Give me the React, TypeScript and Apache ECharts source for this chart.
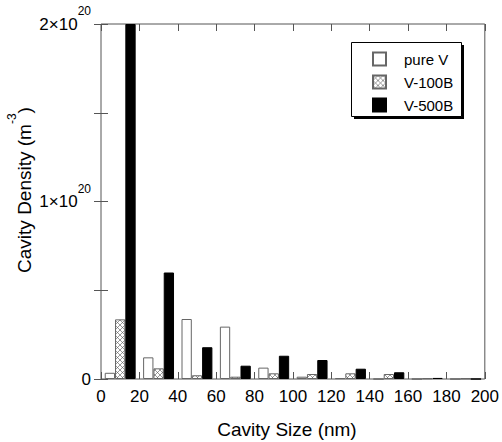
import React, { useEffect, useRef } from "react";
import * as echarts from "echarts";

const binCategories = ["0-20", "20-40", "40-60", "60-80", "80-100", "100-120", "120-140", "140-160", "160-180", "180-200"];
const pureV = [3.5e18, 12.2e18, 33.8e18, 29.5e18, 6.4e18, 1.3e18, 0.5e18, 0, 0, 0];
const v100B = [33.6e18, 6.0e18, 2.1e18, 1.3e18, 3.2e18, 2.8e18, 3.2e18, 2.8e18, 0.4e18, 0.3e18];
const v500B = [200e18, 60e18, 17.9e18, 7.5e18, 13.1e18, 10.7e18, 5.8e18, 3.8e18, 0.6e18, 0];
const seriesNames = ["pure V", "V-100B", "V-500B"];
const xTickValues = [0, 20, 40, 60, 80, 100, 120, 140, 160, 180, 200];

const FONT = "Liberation Sans, Arial, Helvetica, sans-serif";

const hatchSvg =
  "<svg xmlns='http://www.w3.org/2000/svg' width='5' height='5'>" +
  "<rect width='5' height='5' fill='white'/>" +
  "<path d='M0,0L5,5M5,0L0,5' stroke='#555' stroke-width='0.6'/></svg>";
const hatchUrl = "data:image/svg+xml;charset=utf-8," + encodeURIComponent(hatchSvg);

export default function App() {
  const ref = useRef<HTMLDivElement>(null);
  useEffect(() => {
    if (!ref.current) return;
    const chart = echarts.init(ref.current, null, { renderer: "svg" });
    const axisColor = "#555";
    const yFormatter = (v: number) => {
      if (v === 0) return "0";
      const m = v / 1e20;
      if (Math.abs(m - Math.round(m)) > 1e-9) return "";
      return `{b|${Math.round(m)}×10}{s|20}`;
    };
    const yRich = {
      b: { fontSize: 17, lineHeight: 20, fontFamily: FONT, color: "#000", verticalAlign: "middle" },
      s: { fontSize: 12, lineHeight: 12, fontFamily: FONT, color: "#000", verticalAlign: "bottom", padding: [0, 0, 17, 0] },
    };
    const xMin = xTickValues[0];
    const xMax = xTickValues[xTickValues.length - 1];
    const xInterval = xTickValues[1] - xTickValues[0];
    chart.setOption({
      animation: false,
      backgroundColor: "#fff",
      grid: {
        left: 101,
        right: 16,
        top: 24,
        bottom: 63,
        show: true,
        borderColor: axisColor,
        borderWidth: 1,
        backgroundColor: "transparent",
      },
      xAxis: [
        {
          type: "category",
          data: binCategories,
          show: false,
        },
        {
          type: "value",
          min: xMin,
          max: xMax,
          interval: xInterval,
          position: "bottom",
          axisLine: { show: false },
          axisTick: { show: true, inside: true, length: 7, lineStyle: { color: axisColor } },
          splitLine: { show: false },
          axisLabel: { fontSize: 17, fontFamily: FONT, color: "#000", margin: 9 },
        },
        {
          type: "value",
          min: xMin,
          max: xMax,
          interval: xInterval,
          position: "top",
          axisLine: { show: false },
          axisTick: { show: true, inside: true, length: 7, lineStyle: { color: axisColor } },
          splitLine: { show: false },
          axisLabel: { show: false },
        },
      ],
      yAxis: [
        {
          type: "value",
          min: 0,
          max: 2e20,
          interval: 5e19,
          position: "left",
          axisLine: { show: false },
          axisTick: { show: true, inside: true, length: 7, lineStyle: { color: axisColor } },
          splitLine: { show: false },
          axisLabel: { formatter: yFormatter, rich: yRich, margin: 10, fontFamily: FONT, fontSize: 17, color: "#000" },
        },
        {
          type: "value",
          min: 0,
          max: 2e20,
          interval: 5e19,
          position: "right",
          axisLine: { show: false },
          axisTick: { show: true, inside: true, length: 7, lineStyle: { color: axisColor } },
          splitLine: { show: false },
          axisLabel: { show: false },
        },
      ],
      legend: {
        orient: "vertical",
        left: 372,
        top: 51.5,
        padding: 0,
        itemWidth: 13,
        itemHeight: 13,
        itemGap: 8,
        icon: "rect",
        z: 20,
        data: seriesNames,
        textStyle: { fontSize: 15, fontFamily: FONT, color: "#000", padding: [0, 0, 0, 13] },
      },
      graphic: [
        { type: "rect", z: 10, shape: { x: 354, y: 45, width: 110, height: 74 }, style: { fill: "#000" } },
        { type: "rect", z: 11, shape: { x: 351.5, y: 42.5, width: 110, height: 74 }, style: { fill: "#fff", stroke: "#000", lineWidth: 1 } },
        {
          type: "text",
          x: 287,
          y: 429,
          style: { text: "Cavity Size (nm)", fontSize: 19, fontFamily: FONT, fill: "#000", align: "center", verticalAlign: "middle" },
        },
        {
          type: "text",
          x: 24,
          y: 190,
          rotation: Math.PI / 2,
          style: {
            text: "{b|Cavity Density (m}{s|-3}{b|)}",
            align: "center",
            verticalAlign: "middle",
            rich: {
              b: { fontSize: 19, lineHeight: 22, fontFamily: FONT, fill: "#000", verticalAlign: "middle" },
              s: { fontSize: 12, lineHeight: 12, fontFamily: FONT, fill: "#000", verticalAlign: "bottom", padding: [0, 0, 17, 0] },
            },
          },
        },
      ],
      series: [
        {
          name: seriesNames[0],
          type: "bar",
          xAxisIndex: 0,
          yAxisIndex: 0,
          data: pureV,
          barWidth: 10.3,
          barGap: "0%",
          itemStyle: { color: "#fff", borderColor: "#666", borderWidth: 1 },
        },
        {
          name: seriesNames[1],
          type: "bar",
          xAxisIndex: 0,
          yAxisIndex: 0,
          data: v100B,
          barWidth: 10.3,
          barGap: "0%",
          itemStyle: {
            color: { image: hatchUrl, repeat: "repeat", imageWidth: 5, imageHeight: 5 },
            borderColor: "#666",
            borderWidth: 1,
          },
        },
        {
          name: seriesNames[2],
          type: "bar",
          xAxisIndex: 0,
          yAxisIndex: 0,
          data: v500B,
          barWidth: 10.3,
          barGap: "0%",
          itemStyle: { color: "#000", borderColor: "#000", borderWidth: 1 },
        },
      ],
    });
    return () => chart.dispose();
  }, []);
  return (
    <div
      ref={ref}
      style={{ position: "fixed", left: 0, top: 0, width: 502, height: 442 }}
    />
  );
}
